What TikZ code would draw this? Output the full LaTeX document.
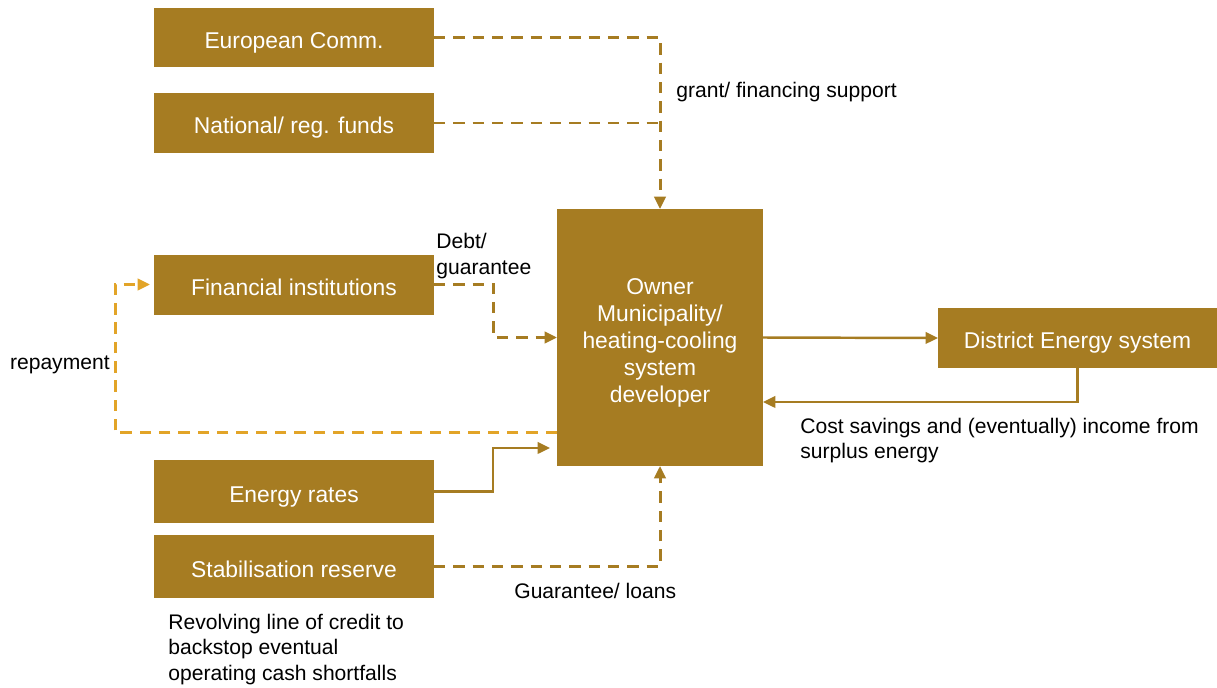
\documentclass[tikz,border=0pt]{standalone}
\usepackage{fontspec}
\setmainfont{Liberation Sans}
\usepackage{tikz}
\usetikzlibrary{calc,arrows.meta}
\definecolor{gold}{RGB}{166,124,34}
\definecolor{lightgold}{RGB}{226,164,40}
\tikzstyle{goldbox}=[rectangle,fill=gold,text=white,align=center,
                     font=\fontsize{13}{15.4}\selectfont,inner sep=0pt,outer sep=0pt,
                     text height=12.2pt,text depth=0pt,
                     minimum width=5.6cm,minimum height=1.2cm]
\tikzstyle{flowline}=[draw=gold,line width=1.4pt,-{Triangle[length=0.25cm,width=0.23cm]}]
\tikzstyle{dashline}=[flowline,line width=1.7pt,dash pattern=on 6.5pt off 4.5pt]
\tikzstyle{plainlabel}=[font=\fontsize{12}{14.7}\selectfont,inner sep=0pt,align=left]

\begin{document}
\begin{tikzpicture}[x=0.02cm,y=-0.02cm]
    \useasboundingbox (0,0) rectangle (1217,687);
    \node [goldbox] (EC) at (294,37.5) {European Comm.};
    \node [goldbox] (NRF) at (294,123) {National/ reg. funds};
    \node [goldbox] (FI) at (294,284.5) {Financial institutions};
    \node [goldbox,minimum height=1.26cm] (ER) at (294,491.5) {Energy rates};
    \node [goldbox,minimum height=1.26cm] (SR) at (294,566.5) {Stabilisation reserve};
    \node [goldbox,text height=73.8pt,minimum width=4.12cm,minimum height=5.14cm] (Owner) at (660,337.5) {
        Owner\\Municipality/\\heating-cooling\\system\\developer
    };
    \node [goldbox,minimum width=5.58cm] (DES) at (1077.5,338) {District Energy system};

    \draw [dashline] (EC.east) -| (Owner.north);
    \draw [dashline,-] (NRF.east) -- (NRF.east -| Owner.north);
    \draw [dashline] (FI.east) -- ++(60,0) |- (Owner.west);
    \draw [dashline,draw=lightgold] ([yshift=0.66cm]Owner.south west) -- ++(-442,0) |- ([xshift=-0.08cm]FI.west);
    \draw [flowline] (ER.east) -- ++(59,0) |- ([xshift=-0.14cm,yshift=0.36cm]Owner.south west);
    \draw [dashline] (SR.east) -| (Owner.south);
    \draw [flowline] (Owner.east) -- (DES.west);
    \draw [flowline] (DES.south) |- ([yshift=1.28cm]Owner.south east);

    \node [plainlabel,anchor=west] (grantlbl) at (676,92) {grant/ financing support};
    \node [plainlabel,anchor=west] (debtlbl) at (436,256) {Debt/\\guarantee};
    \node [plainlabel,anchor=east] (repaylbl) at (110,364.5) {repayment};
    \node [plainlabel,anchor=west] (savinglbl) at (800,440.5) {Cost savings and (eventually) income from\\surplus energy};
    \node [plainlabel,anchor=west] (guarlbl) at (514,591) {Guarantee/ loans};
    \node [plainlabel,anchor=west] (revolvlbl) at (168,649.5) {Revolving line of credit to\\backstop eventual\\operating cash shortfalls};
\end{tikzpicture}
\end{document}
